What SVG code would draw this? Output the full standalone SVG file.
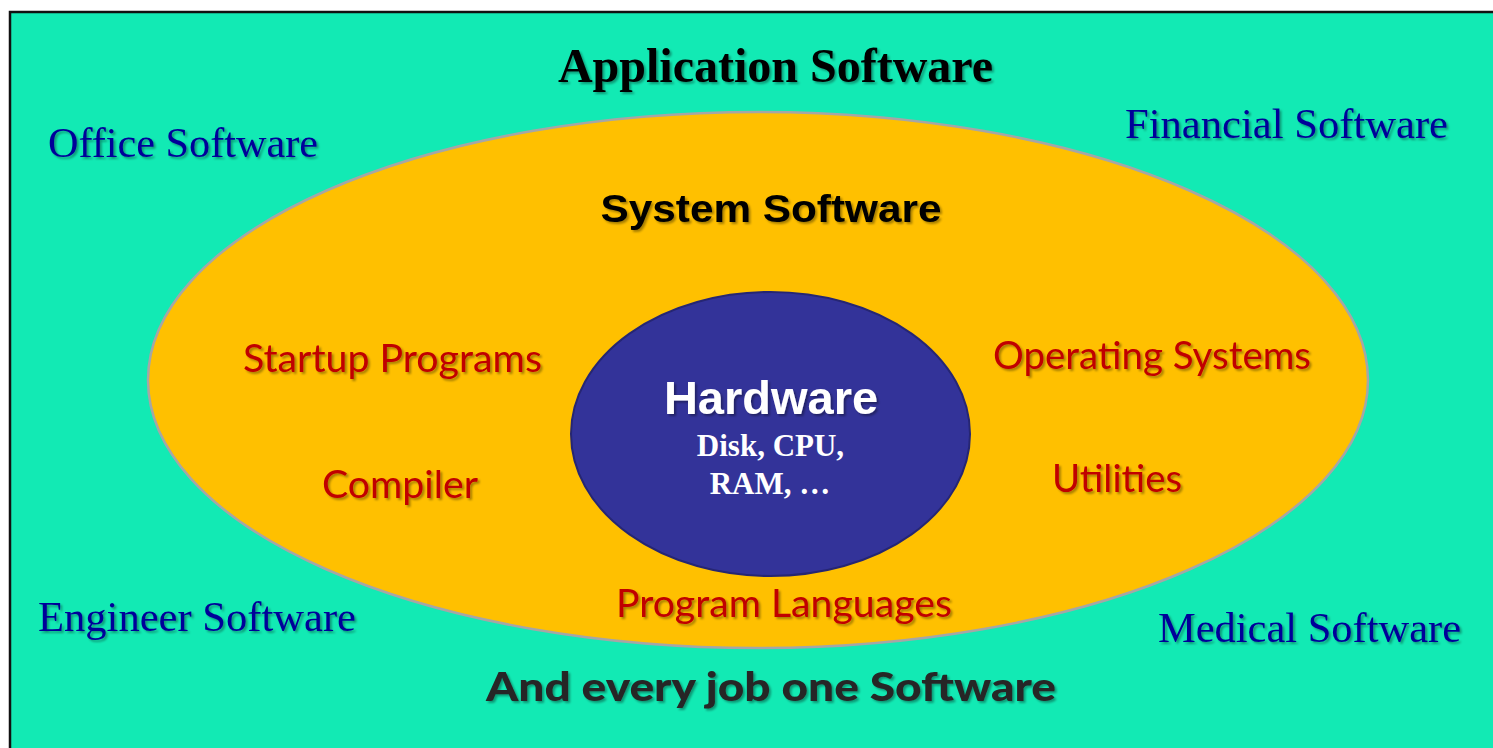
<svg xmlns="http://www.w3.org/2000/svg" width="1493" height="748" viewBox="0 0 1493 748">
  <defs>
    <filter id="sh" x="-10%" y="-30%" width="120%" height="160%">
      <feDropShadow dx="2" dy="2" stdDeviation="1.2" flood-color="#000" flood-opacity="0.35"/>
    </filter>
    <style>
      .blue { font-family: "Liberation Serif", "Times New Roman", serif; font-size: 42px; fill: #000099; filter: url(#sh); }
      .red { font-family: Lato, "Noto Sans", sans-serif; font-size: 38.5px; fill: #C00000; filter: url(#sh); }
    </style>
  </defs>
  <rect x="0" y="0" width="1493" height="748" fill="#ffffff"/>
  <g id="background">
    <rect x="10" y="12" width="1500" height="760" fill="#12EAB4" stroke="#111" stroke-width="2.5"/>
  </g>
  <g id="application">
    <text x="775.5" y="82" text-anchor="middle" font-family="Liberation Serif, serif" font-weight="bold" font-size="48" fill="#000" filter="url(#sh)">Application Software</text>
    <text class="blue" x="48" y="157" textLength="270" lengthAdjust="spacingAndGlyphs">Office Software</text>
    <text class="blue" x="1125" y="138" textLength="323" lengthAdjust="spacingAndGlyphs">Financial Software</text>
    <text class="blue" x="38" y="631" textLength="318" lengthAdjust="spacingAndGlyphs">Engineer Software</text>
    <text class="blue" x="1158" y="642" textLength="303" lengthAdjust="spacingAndGlyphs">Medical Software</text>
    <text x="771" y="701" text-anchor="middle" font-family="Lato, sans-serif" font-weight="900" font-size="39" fill="#262626" filter="url(#sh)" textLength="570" lengthAdjust="spacingAndGlyphs">And every job one Software</text>
  </g>
  <g id="system">
    <ellipse cx="758" cy="380" rx="610" ry="268" fill="#FFC000" stroke="#A6A6A6" stroke-width="2.5"/>
    <text x="771" y="222" text-anchor="middle" font-family="Liberation Sans, Arial, sans-serif" font-weight="bold" font-size="38" fill="#000" filter="url(#sh)" textLength="341" lengthAdjust="spacingAndGlyphs">System Software</text>
    <text class="red" x="243" y="372" textLength="299" lengthAdjust="spacingAndGlyphs">Startup Programs</text>
    <text class="red" x="322" y="498" textLength="156" lengthAdjust="spacingAndGlyphs">Compiler</text>
    <text class="red" x="993" y="369" textLength="318" lengthAdjust="spacingAndGlyphs">Operating Systems</text>
    <text class="red" x="1052" y="492" textLength="130" lengthAdjust="spacingAndGlyphs">Utilities</text>
    <text class="red" x="616" y="617" textLength="336" lengthAdjust="spacingAndGlyphs">Program Languages</text>
  </g>
  <g id="hardware">
    <ellipse cx="770.5" cy="434" rx="199.5" ry="142" fill="#333399" stroke="#262673" stroke-width="2"/>
    <text x="771" y="414" text-anchor="middle" font-family="Liberation Sans, Arial, sans-serif" font-weight="bold" font-size="47" fill="#fff" filter="url(#sh)">Hardware</text>
    <text x="770.5" y="456" text-anchor="middle" font-family="Liberation Serif, serif" font-weight="bold" font-size="31" fill="#fff">Disk, CPU,</text>
    <text x="770" y="494" text-anchor="middle" font-family="Liberation Serif, serif" font-weight="bold" font-size="31" fill="#fff">RAM, …</text>
  </g>
  <g id="connectors"></g>
</svg>
